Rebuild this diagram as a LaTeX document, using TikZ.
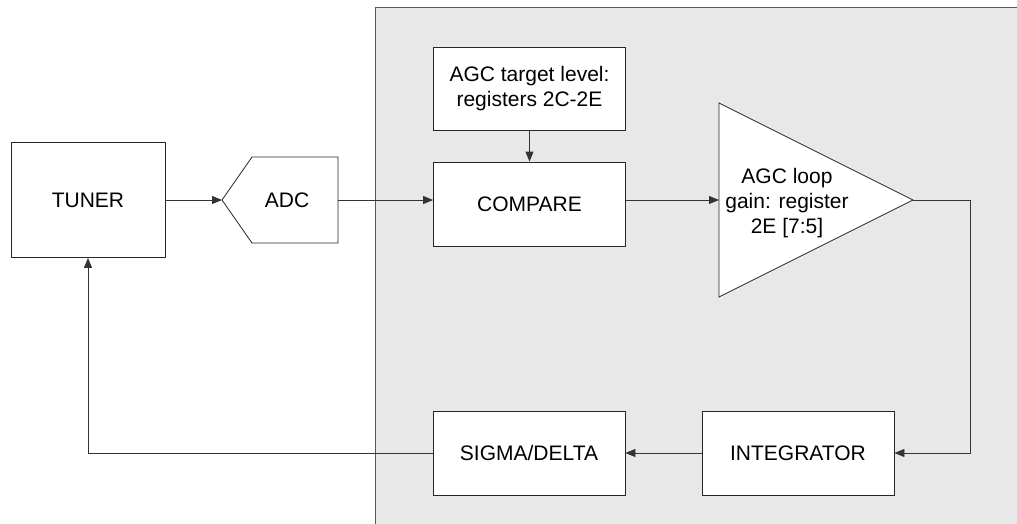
\documentclass[tikz,border=0pt]{standalone}
\usepackage{fontspec}
\setmainfont{Liberation Sans}
\usetikzlibrary{arrows.meta}
\begin{document}
\begin{tikzpicture}[x=1pt,y=-1pt,line width=0.8pt,
  blk/.style={draw=black!85,fill=white,inner sep=0pt,minimum width=192pt,minimum height=84pt,font=\fontsize{21}{25}\selectfont,align=center},
  lbl/.style={font=\fontsize{21}{25}\selectfont,align=center,inner sep=0pt},
  conn/.style={draw=black!80,-{Triangle[length=10pt,width=8pt]}},
  wire/.style={draw=black!80}]
\useasboundingbox (0,0) rectangle (1017,523);
\begin{scope}
\clip (0,0) rectangle (1017,523);
\fill[black!9] (375.5,7.5) rectangle (1040,540);
\draw[black!65] (375.5,540) -- (375.5,7.5) -- (1040,7.5);
\end{scope}
% TUNER
\node[blk,minimum width=154pt,minimum height=115pt] (tuner) at (88,200) {TUNER};
% ADC
\draw[black!85,fill=white] (222,200) -- (252,157) -- (338,157) -- (338,243) -- (252,243) -- cycle;
\node[lbl] (adc) at (287,200) {ADC};
\coordinate (adcin) at (222,200);
\coordinate (adcout) at (338,200);
% target and compare
\node[blk,minimum height=83pt] (target) at (529.5,88.5) {AGC target level:\\registers 2C-2E};
\node[blk] (compare) at (529.5,204) {COMPARE};
% amplifier
\draw[black!85,fill=white] (719,103) -- (913,200) -- (719,297) -- cycle;
\node[lbl,font=\fontsize{21}{25}\selectfont] (amp) at (787,203) {AGC loop\\gain: register\\2E [7:5]};
\coordinate (ampin) at (719,200);
\coordinate (ampout) at (913,200);
\coordinate (turn) at (970,200);
% bottom row
\node[blk] (integ) at (798,453) {INTEGRATOR};
\node[blk] (sigma) at (529,453) {SIGMA/DELTA};
% connectors
\draw[conn] (tuner.east) -- (adcin);
\draw[conn] (adcout) -- (adcout -| compare.west);
\draw[conn] (target.south) -- (compare.north);
\draw[conn] (ampin -| compare.east) -- (ampin);
\draw[conn] (ampout) -- (turn) |- (integ.east);
\draw[conn] (integ.west) -- (sigma.east);
\draw[conn] (sigma.west) -| (tuner.south);
\end{tikzpicture}
\end{document}
